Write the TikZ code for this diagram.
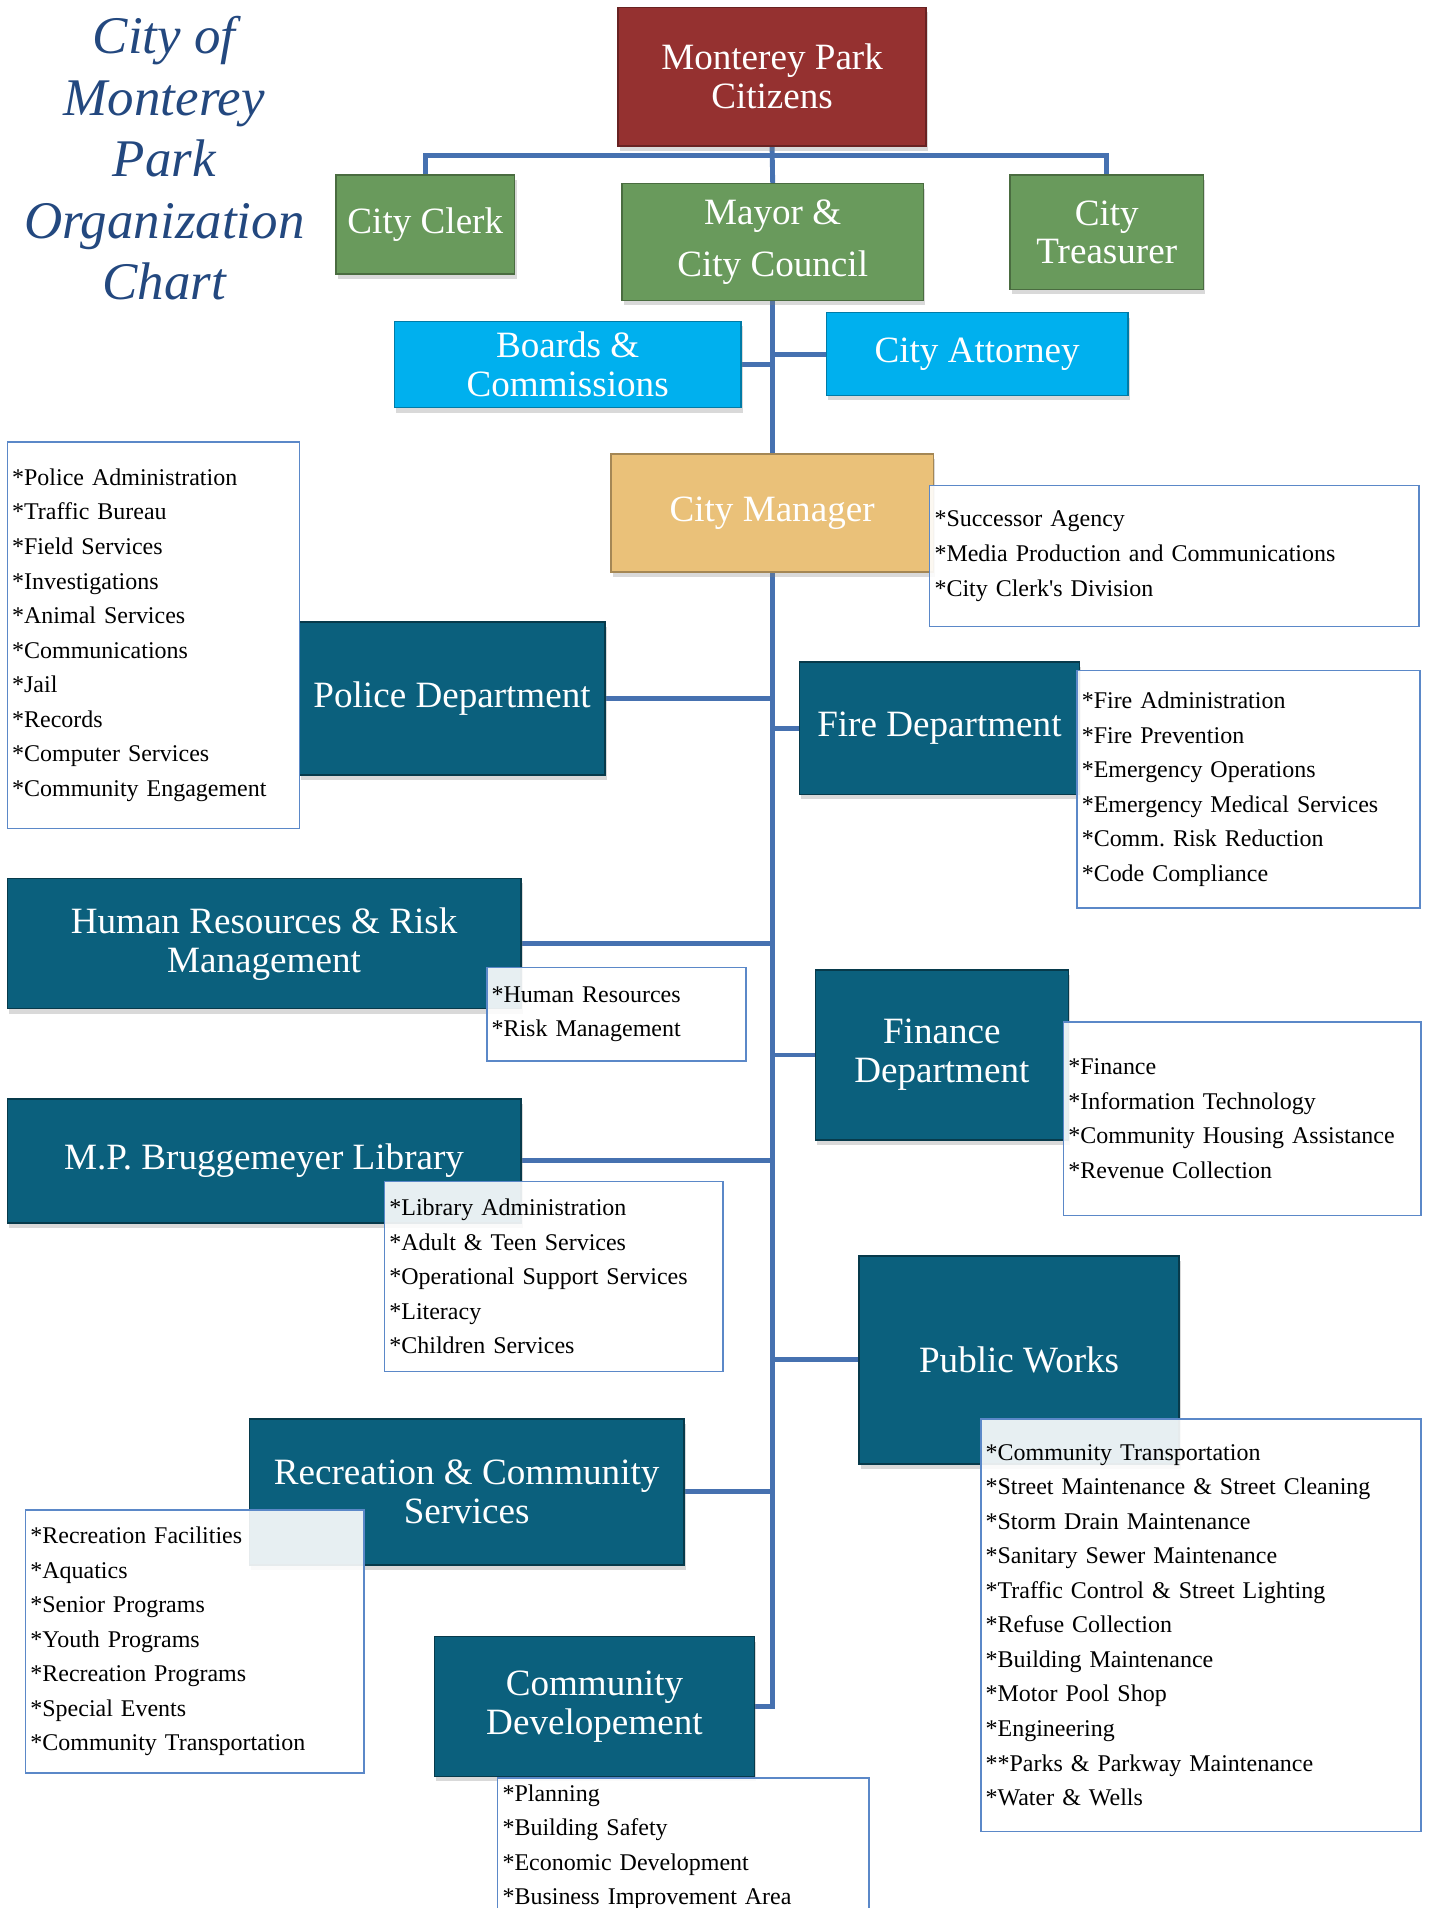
\documentclass[tikz,border=0pt]{standalone}
\usepackage{fontspec}
\setmainfont{Liberation Serif}
\usetikzlibrary{shadows,backgrounds}
\frenchspacing

\definecolor{citzred}{HTML}{953130}
\definecolor{councilgreen}{HTML}{699A5C}
\definecolor{legalblue}{HTML}{00B0EE}
\definecolor{mgrgold}{HTML}{EAC179}
\definecolor{deptteal}{HTML}{0B607D}
\definecolor{linkblue}{HTML}{4671B0}
\definecolor{listblue}{HTML}{5B88C8}
\definecolor{titleblue}{HTML}{23487F}

\begin{document}
\begin{tikzpicture}[x=1pt,y=-1pt,
            orgbox/.style={rectangle,line width=1.2pt,text=white,align=center,inner sep=2pt,
              font=\fontsize{30.5}{32}\selectfont,
              drop shadow={shadow xshift=1.5pt,shadow yshift=-4pt,opacity=.3}},
            redbox/.style={orgbox,fill=citzred,draw=citzred!70!black},
            greenbox/.style={orgbox,fill=councilgreen,draw=councilgreen!70!black},
            cyanbox/.style={orgbox,fill=legalblue,draw=legalblue!70!black},
            goldbox/.style={orgbox,fill=mgrgold,draw=mgrgold!70!black},
            deptbox/.style={orgbox,fill=deptteal,draw=deptteal!60!black},
            dutylist/.style={rectangle,draw=listblue,line width=1.3pt,fill=white,fill opacity=.9,
              text opacity=1,align=left,inner xsep=4pt,inner ysep=0pt,
              font=\fontsize{19.7}{28.4}\selectfont},
            branch/.style={draw=linkblue,line width=4pt}
          ]
          \useasboundingbox (0,0) rectangle (1175,1568);
          \clip (0,0) rectangle (1175,1568);

          %title
          \node[font=\fontsize{43.5}{50.5}\selectfont\itshape,text=titleblue,align=center] (title) at (135,130)
            {City of\\Monterey\\Park\\Organization\\Chart};

          %top of the chart
          \node[redbox,minimum width=253pt,minimum height=114pt] (citz) at (634.5,63) {Monterey Park\\Citizens};
          \node[greenbox,minimum width=147pt,minimum height=81pt] (clerk) at (349.5,184.5) {City Clerk};
          \node[greenbox,minimum width=248pt,minimum height=96pt] (mayor) at (635,199) {Mayor \&\\[11pt]City Council};
          \node[greenbox,minimum width=159pt,minimum height=94pt] (treas) at (909.5,191) {City\\Treasurer};
          \node[cyanbox,minimum width=285pt,minimum height=71pt] (boards) at (466.5,299.5) {Boards \&\\Commissions};
          \node[cyanbox,minimum width=248pt,minimum height=68pt] (atty) at (803,291) {City Attorney};
          \node[goldbox,minimum width=265pt,minimum height=97pt] (mgr) at (634.5,421.5) {City Manager};

          %departments
          \node[deptbox,minimum width=251pt,minimum height=126pt] (police) at (371.5,574) {Police Department};
          \node[deptbox,minimum width=230pt,minimum height=109pt] (fire) at (772,598.5) {Fire Department};
          \node[deptbox,minimum width=422pt,minimum height=107pt] (hr) at (217,775.5) {Human Resources \& Risk\\Management};
          \node[deptbox,minimum width=208pt,minimum height=140pt] (fin) at (774,867) {Finance\\Department};
          \node[deptbox,minimum width=422pt,minimum height=102pt] (lib) at (217,954) {M.P. Bruggemeyer Library};
          \node[deptbox,minimum width=263pt,minimum height=171pt] (pw) at (837.5,1117.5) {Public Works};
          \node[deptbox,minimum width=357pt,minimum height=120pt] (rec) at (383.5,1226) {Recreation \& Community\\Services};
          \node[deptbox,minimum width=263pt,minimum height=115pt] (cd) at (488.5,1402.5) {Community\\Developement};

          %divisions
          \node[dutylist,minimum width=402pt,minimum height=116pt,text width=394pt] (mgrlist) at (965,457)
            {*Successor Agency\\{}*Media Production and Communications\\{}*City Clerk\textquotesingle s Division};
          \node[dutylist,minimum width=240pt,minimum height=318pt,text width=232pt] (policelist) at (126,522)
            {*Police Administration\\{}*Traffic Bureau\\{}*Field Services\\{}*Investigations\\{}*Animal Services\\{}*Communications\\{}*Jail\\{}*Records\\{}*Computer Services\\{}*Community Engagement};
          \node[dutylist,minimum width=282pt,minimum height=195pt,text width=274pt] (firelist) at (1026,648.5)
            {*Fire Administration\\{}*Fire Prevention\\{}*Emergency Operations\\{}*Emergency Medical Services\\{}*Comm. Risk Reduction\\{}*Code Compliance};
          \node[dutylist,minimum width=213pt,minimum height=77pt,text width=205pt] (hrlist) at (506.5,833.5)
            {*Human Resources\\{}*Risk Management};
          \node[dutylist,minimum width=294pt,minimum height=159pt,text width=286pt] (finlist) at (1021,919.5)
            {*Finance\\{}*Information Technology\\{}*Community Housing Assistance\\{}*Revenue Collection};
          \node[dutylist,minimum width=278pt,minimum height=156pt,text width=270pt] (liblist) at (455,1049)
            {*Library Administration\\{}*Adult \& Teen Services\\{}*Operational Support Services\\{}*Literacy\\{}*Children Services};
          \node[dutylist,minimum width=362pt,minimum height=339pt,text width=354pt] (pwlist) at (987,1335.5)
            {*Community Transportation\\{}*Street Maintenance \& Street Cleaning\\{}*Storm Drain Maintenance\\{}*Sanitary Sewer Maintenance\\{}*Traffic Control \& Street Lighting\\{}*Refuse Collection\\{}*Building Maintenance\\{}*Motor Pool Shop\\{}*Engineering\\{}**Parks \& Parkway Maintenance\\{}*Water \& Wells};
          \node[dutylist,minimum width=278pt,minimum height=216pt,text width=270pt] (reclist) at (160,1349)
            {*Recreation Facilities\\{}*Aquatics\\{}*Senior Programs\\{}*Youth Programs\\{}*Recreation Programs\\{}*Special Events\\{}*Community Transportation};
          \node[dutylist,minimum width=305pt,minimum height=114pt,text width=297pt] (cdlist) at (561.5,1518)
            {*Planning\\{}*Building Safety\\{}*Economic Development\\{}*Business Improvement Area};

          %lines
          \begin{scope}[on background layer]
            \coordinate (bar) at (634.5,128);
            \path[branch] (citz.south) -- (mayor.north);
            \path[branch] (clerk.north) |- (bar) -| (treas.north);
            \path[branch] (mayor.south) |- (cd.east);
            \foreach \unit in {boards,atty,police,fire,hr,fin,lib,pw,rec}
              \path[branch] (\unit) -- (\unit -| mayor.south);
          \end{scope}
      \end{tikzpicture}
\end{document}
